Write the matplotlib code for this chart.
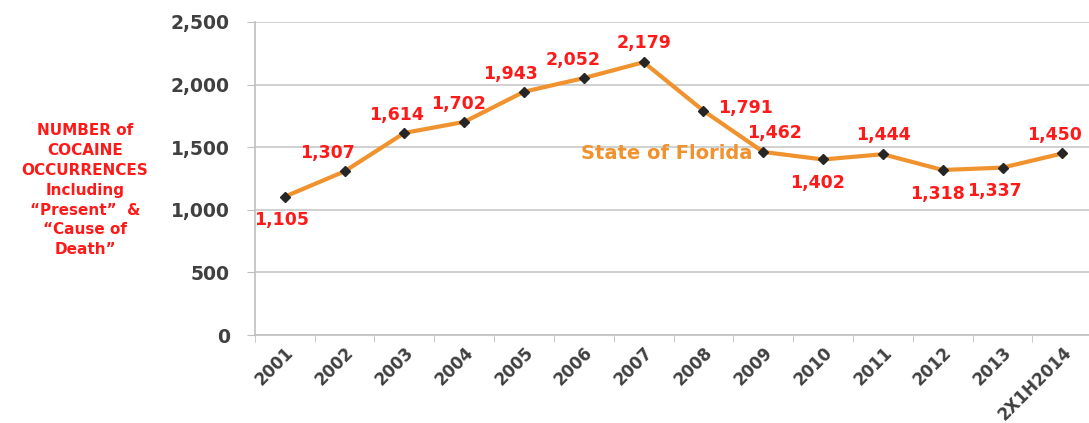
import numpy as np
from matplotlib import pyplot as plt

plt.rcParams['font.family'] = ['DejaVu Sans']

# data
years = ['2001', '2002', '2003', '2004', '2005', '2006', '2007',
         '2008', '2009', '2010', '2011', '2012', '2013', '2X1H2014']
counts = [1105, 1307, 1614, 1702, 1943, 2052, 2179,
          1791, 1462, 1402, 1444, 1318, 1337, 1450]
# label offsets (points) for each data label
offsets = [(-2, -17), (-12, 13), (-6, 13), (-4, 13), (-10, 13), (-8, 13), (0, 14),
           (30, 2), (8, 14), (-4, -17), (0, 14), (-4, -17), (-6, -17), (-6, 13)]

fig = plt.figure(figsize=(10.89, 4.23), dpi=100)
ax = fig.add_axes([0.234, 0.208, 0.769, 0.740])

x = np.arange(len(years))
ax.plot(x, counts, '-', color='#F0922E', lw=3, zorder=3)
ax.plot(x, counts, 'D', color='#262626', ms=5.5, zorder=4)

for xi, v, off in zip(x, counts, offsets):
    ax.annotate(f'{v:,}', (xi, v), xytext=off, textcoords='offset points',
                ha='center', va='center', color='#FF1A1A', fontsize=12.5,
                fontweight='bold')

ax.text(4.95, 1450, 'State of Florida', color='#F0922E', fontsize=14,
        fontweight='bold', ha='left', va='center')

ax.set_xlim(-0.5, 13.5)
ax.set_ylim(0, 2500)
ax.set_yticks(np.arange(0, 2501, 500))
ax.set_yticklabels([f'{v:,}' for v in range(0, 2501, 500)])
ax.set_xticks(x)
ax.set_xticklabels(years, rotation=45, ha='right', rotation_mode='anchor')
ax.set_xticks(np.arange(-0.5, 14, 1), minor=True)
ax.tick_params(axis='x', which='major', length=0, pad=6)
ax.tick_params(axis='x', which='minor', length=5, color='#BFBFBF')
ax.tick_params(axis='y', length=6, color='#BFBFBF', pad=12)
for lab in ax.get_yticklabels():
    lab.set_fontweight('bold')
    lab.set_color('#404040')
    lab.set_fontsize(13.5)
for lab in ax.get_xticklabels():
    lab.set_fontweight('bold')
    lab.set_color('#404040')
    lab.set_fontsize(12)

ax.grid(True, axis='y', color='#C8C8C8', lw=1.2)
ax.set_axisbelow(True)
for s in ['top', 'right']:
    ax.spines[s].set_visible(False)
for s in ['left', 'bottom']:
    ax.spines[s].set_color('#BFBFBF')
    ax.spines[s].set_linewidth(1.2)

fig.text(0.078, 0.55,
         'NUMBER of\nCOCAINE\nOCCURRENCES\nIncluding\n\u201cPresent\u201d  &\n\u201cCause of\nDeath\u201d',
         color='#FF1A1A', fontsize=11, fontweight='bold', ha='center', va='center',
         linespacing=1.4)

fig.savefig('out.png', dpi=100)
